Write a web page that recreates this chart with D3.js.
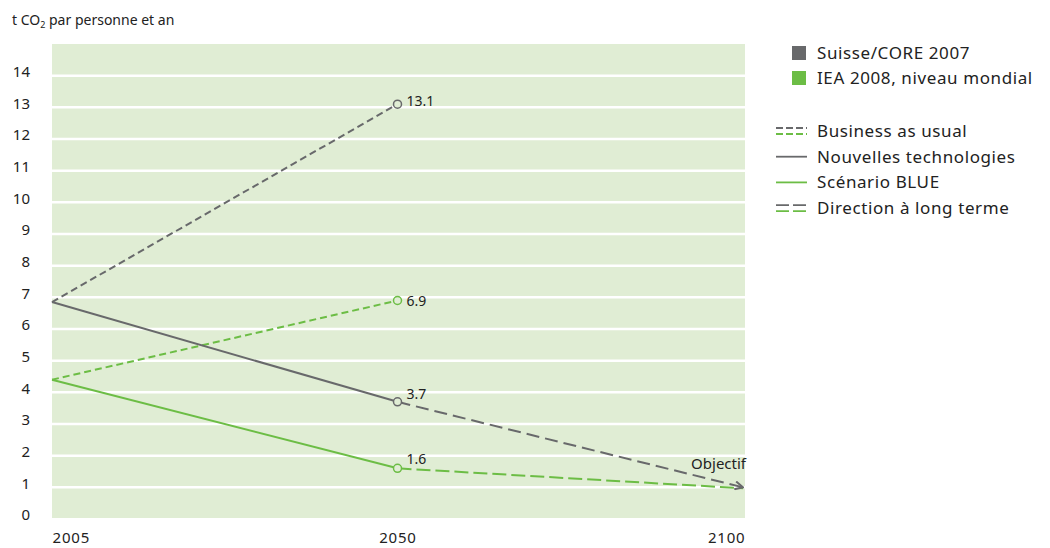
<!DOCTYPE html>
<html><head><meta charset="utf-8">
<script src="https://cdn.jsdelivr.net/npm/d3@7"></script>
<style>
html,body{margin:0;padding:0;background:#fff;}
text{font-family:"Noto Sans","Open Sans",sans-serif;fill:#222;}
</style></head>
<body>
<svg id="chart" width="1050" height="548"></svg>
<script>
// ---- data ----
const years = ["2005", "2050", "2100"];
const yTicks = [0,1,2,3,4,5,6,7,8,9,10,11,12,13,14];
// Suisse/CORE 2007 (gray)
const swissBAU = [{year:"2005", v:6.85}, {year:"2050", v:13.1}];
const swissTech = [{year:"2005", v:6.85}, {year:"2050", v:3.7}];
const swissLong = [{year:"2050", v:3.7}, {year:"2100", v:1.0}];
// IEA 2008 niveau mondial (green)
const ieaBAU = [{year:"2005", v:4.4}, {year:"2050", v:6.9}];
const ieaBlue = [{year:"2005", v:4.4}, {year:"2050", v:1.6}];
const ieaLong = [{year:"2050", v:1.6}, {year:"2100", v:0.97}];
const pointLabels = [
  {year:"2050", v:13.1, text:"13.1", series:"gray"},
  {year:"2050", v:6.9, text:"6.9", series:"green"},
  {year:"2050", v:3.7, text:"3.7", series:"gray"},
  {year:"2050", v:1.6, text:"1.6", series:"green"}
];
const targetLabel = "Objectif";
const legendSeries = ["Suisse/CORE 2007", "IEA 2008, niveau mondial"];
const legendStyles = ["Business as usual", "Nouvelles technologies", "Scénario BLUE", "Direction à long terme"];

// ---- styles ----
const GRAY = "#68696b", GREEN = "#6cbd45", BG = "#e0edd4";
const labelDy = {"13.1":-3, "6.9":0, "3.7":-8, "1.6":-9};

const svg = d3.select("#chart");
const pL = 52, pR = 745, pT = 44, pB = 519;
const x = d3.scalePoint().domain(years).range([pL, 743]);
const y = d3.scaleLinear().domain([0, 15]).range([pB, pT]);

// background
svg.append("rect").attr("x", pL).attr("y", pT).attr("width", pR - pL).attr("height", pB - pT - 1).attr("fill", BG);
// gridlines
svg.append("g").selectAll("line").data(yTicks.filter(d => d > 0)).join("line")
  .attr("x1", pL).attr("x2", pR)
  .attr("y1", d => y(d)).attr("y2", d => y(d))
  .attr("stroke", "#fff").attr("stroke-width", 2.5);

// y axis labels
const yAxis = d3.axisLeft(y).tickValues(yTicks).tickSize(0).tickPadding(0);
const yg = svg.append("g").attr("transform", "translate(30,-4)").call(yAxis);
yg.select(".domain").remove();
yg.selectAll("text").attr("font-size", 15).attr("fill", "#222")
  .style("font-family", '"Noto Sans",sans-serif');

// x axis labels
const xAxis = d3.axisBottom(x).tickSize(0).tickPadding(0);
const xg = svg.append("g").attr("transform", "translate(0,532)").call(xAxis);
xg.select(".domain").remove();
xg.selectAll("text").attr("font-size", 15).attr("fill", "#222")
  .style("font-family", '"Noto Sans",sans-serif')
  .style("letter-spacing", "0.8px")
  .attr("text-anchor", d => d === "2005" ? "start" : d === "2100" ? "end" : "middle")
  .attr("dx", d => d === "2100" ? "2" : "0");

// title
const title = svg.append("text").attr("x", 12).attr("y", 25).attr("font-size", 14);
title.append("tspan").text("t CO");
title.append("tspan").attr("font-size", 9).attr("dy", 3).text("2");
title.append("tspan").attr("dy", -3).text(" par personne et an");

// arrow marker
svg.append("defs").append("marker").attr("id", "arrow")
  .attr("viewBox", "0 0 10 10").attr("refX", 9).attr("refY", 5)
  .attr("markerWidth", 5).attr("markerHeight", 5).attr("orient", "auto")
  .append("path").attr("d", "M1,1 L9,5 L1,9").attr("fill", "none").attr("stroke", GRAY).attr("stroke-width", 2);

const line = d3.line().x(d => x(d.year)).y(d => y(d.v));
function draw(data, color, dash, marker) {
  const p = svg.append("path").datum(data).attr("d", line)
    .attr("fill", "none").attr("stroke", color).attr("stroke-width", 2);
  if (dash) p.attr("stroke-dasharray", dash);
  if (marker) p.attr("marker-end", marker);
}
draw(ieaLong, GREEN, "14,5");
draw(swissLong, GRAY, "13,6", "url(#arrow)");
draw(ieaBAU, GREEN, "7,4");
draw(ieaBlue, GREEN, null);
draw(swissBAU, GRAY, "7,4");
draw(swissTech, GRAY, null);

// circles
svg.append("g").selectAll("circle").data(pointLabels).join("circle")
  .attr("cx", d => x(d.year)).attr("cy", d => y(d.v)).attr("r", 4)
  .attr("fill", BG).attr("stroke", d => d.series === "gray" ? GRAY : GREEN).attr("stroke-width", 1.5);
// point labels
svg.append("g").selectAll("text").data(pointLabels).join("text")
  .attr("x", d => x(d.year) + 9).attr("y", d => y(d.v) + labelDy[d.text] + 5)
  .attr("font-size", 14).text(d => d.text);
svg.append("text").attr("x", 746).attr("y", y(1) - 18).attr("text-anchor", "end")
  .attr("font-size", 15).text(targetLabel);

// legend: series
const lg = svg.append("g");
legendSeries.forEach((s, i) => {
  const yy = 53 + i * 25;
  lg.append("rect").attr("x", 792).attr("y", yy - 7).attr("width", 14).attr("height", 14)
    .attr("fill", i === 0 ? GRAY : GREEN);
  lg.append("text").attr("x", 817).attr("y", yy + 6).attr("font-size", 17)
    .style("letter-spacing", "0.6px").text(s);
});
// legend: styles
legendStyles.forEach((s, i) => {
  const yy = 131 + i * 25.7;
  if (i === 0 || i === 3) {
    const dash = i === 0 ? "7,3" : "13,4";
    lg.append("line").attr("x1", 776).attr("x2", 807).attr("y1", yy - 3).attr("y2", yy - 3)
      .attr("stroke", GRAY).attr("stroke-width", 1.8).attr("stroke-dasharray", dash);
    lg.append("line").attr("x1", 776).attr("x2", 807).attr("y1", yy + 3).attr("y2", yy + 3)
      .attr("stroke", GREEN).attr("stroke-width", 1.8).attr("stroke-dasharray", dash);
  } else {
    lg.append("line").attr("x1", 776).attr("x2", 807).attr("y1", yy).attr("y2", yy)
      .attr("stroke", i === 1 ? GRAY : GREEN).attr("stroke-width", 1.8);
  }
  lg.append("text").attr("x", 817).attr("y", yy + 6).attr("font-size", 17)
    .style("letter-spacing", "0.6px").text(s);
});
</script>
</body></html>
